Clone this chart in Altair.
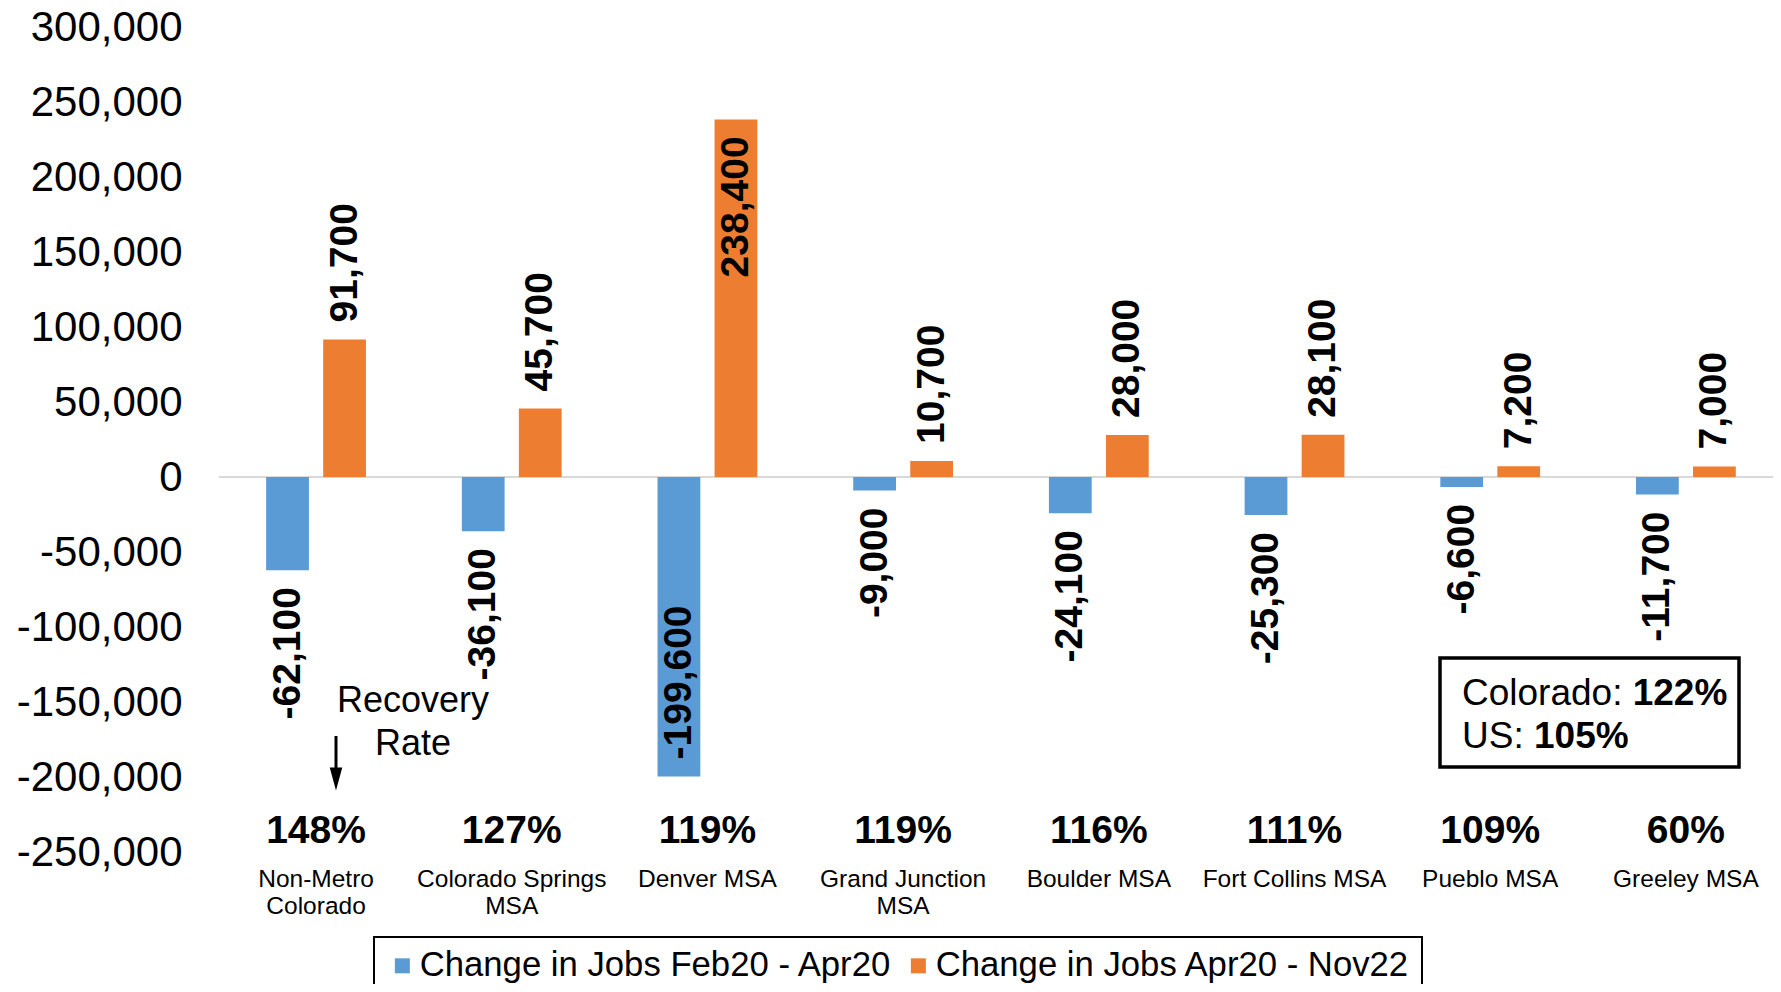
import altair as alt
import pandas as pd

# ---------------- data ----------------
regions = ["Non-Metro Colorado", "Colorado Springs MSA", "Denver MSA", "Grand Junction MSA",
           "Boulder MSA", "Fort Collins MSA", "Pueblo MSA", "Greeley MSA"]
region_labels = ["Non-Metro|Colorado", "Colorado Springs|MSA", "Denver MSA", "Grand Junction|MSA",
                 "Boulder MSA", "Fort Collins MSA", "Pueblo MSA", "Greeley MSA"]
series = ["Change in Jobs Feb20 - Apr20", "Change in Jobs Apr20 - Nov22"]
jobs_lost = [-62100, -36100, -199600, -9000, -24100, -25300, -6600, -11700]
jobs_gained = [91700, 45700, 238400, 10700, 28000, 28100, 7200, 7000]
recovery_rate = ["148%", "127%", "119%", "119%", "116%", "111%", "109%", "60%"]
y_ticks = [-250000, -200000, -150000, -100000, -50000, 0, 50000, 100000, 150000, 200000, 250000, 300000]
colors = ["#5B9BD5", "#ED7D31"]
state_text = ["Colorado: ", "US: "]
state_rate = ["122%", "105%"]

FONT = "Liberation Sans"
W, H = 1554, 825

rows = []
for r, a, b in zip(regions, jobs_lost, jobs_gained):
    for s, v in zip(series, (a, b)):
        inside = abs(v) > 150000
        up = (v > 0) != inside
        rows.append({"region": r, "series": s, "value": v, "label": f"{v:,}", "up": up})
bars_df = pd.DataFrame(rows)
reg_df = pd.DataFrame({"region": regions, "name": region_labels, "rate": recovery_rate})

xenc = alt.X("region:N", sort=regions, axis=None,
             scale=alt.Scale(domain=regions, paddingInner=0.49, paddingOuter=0.2155, align=0.559))
xoff = alt.XOffset("series:N", sort=series, scale=alt.Scale(domain=series, paddingInner=0.25, paddingOuter=0))
yaxis = alt.Axis(values=y_ticks, labelExpr="replace(format(datum.value, ','), '\u2212', '-')",
                 labelFontSize=42, labelFont=FONT, labelColor="black", domain=False,
                 ticks=False, tickSize=0, grid=False, labelPadding=37, title=None)
yenc = alt.Y("value:Q", scale=alt.Scale(domain=[-250000, 300000], nice=False, zero=False), axis=yaxis)

zero = alt.Chart(pd.DataFrame({"value": [0]})).mark_rule(color="#D9D9D9", strokeWidth=2).encode(
    y=alt.Y("value:Q", axis=yaxis))

bars = alt.Chart(bars_df).mark_bar().encode(
    x=xenc, xOffset=xoff, y=yenc,
    color=alt.Color("series:N", sort=series,
                    scale=alt.Scale(domain=series, range=colors),
                    legend=alt.Legend(orient="none", legendX=155, legendY=910, direction="horizontal",
                                      title=None, labelFontSize=34.7, labelFont=FONT, labelColor="black",
                                      symbolType="square", symbolSize=225, symbolStrokeWidth=0,
                                      labelOffset=0, columnPadding=8, padding=11, labelLimit=2000,
                                      strokeColor="black", symbolOffset=0)))

lab_common = dict(angle=270, baseline="middle", fontSize=39, fontWeight="bold", font=FONT, color="black")
labels_up = alt.Chart(bars_df).transform_filter("datum.up").mark_text(align="left", dx=17, **lab_common).encode(
    x=alt.X("region:N", sort=regions), xOffset=alt.XOffset("series:N", sort=series),
    y=alt.Y("value:Q", axis=yaxis), text="label:N")
labels_down = alt.Chart(bars_df).transform_filter("!datum.up").mark_text(align="right", dx=-17, **lab_common).encode(
    x=alt.X("region:N", sort=regions), xOffset=alt.XOffset("series:N", sort=series),
    y=alt.Y("value:Q", axis=yaxis), text="label:N")

rates = alt.Chart(reg_df).mark_text(fontSize=39, fontWeight="bold", font=FONT, color="black",
                                    baseline="alphabetic", align="center").encode(
    x=alt.X("region:N", sort=regions), y=alt.value(816), text="rate:N")

names = alt.Chart(reg_df).mark_text(fontSize=24.5, font=FONT, color="black", baseline="top",
                                    align="center", lineBreak="|", lineHeight=27).encode(
    x=alt.X("region:N", sort=regions), y=alt.value(841), text="name:N")

one = pd.DataFrame({"k": [0]})
arrow_line = alt.Chart(one).mark_rule(color="black", strokeWidth=3).encode(
    x=alt.value(117), y=alt.value(709), y2=alt.value(745))
arrow_head = alt.Chart(one).mark_point(shape="M -0.55 -1 L 0.55 -1 L 0 1 Z", filled=True, color="black",
                                       opacity=1, size=520).encode(x=alt.value(117), y=alt.value(752))
rec_text = alt.Chart(pd.DataFrame({"t": ["Recovery", "Rate"], "py": [685, 728]})).mark_text(
    fontSize=36, font=FONT, color="black", align="center", baseline="alphabetic").encode(
    x=alt.value(194), y=alt.Y("py:Q", scale=None), text="t:N")

box = alt.Chart(one).mark_rect(fill="white", fillOpacity=0, stroke="black", strokeWidth=3.5).encode(
    x=alt.value(1221), x2=alt.value(1520), y=alt.value(631), y2=alt.value(740))
box_df = pd.DataFrame({"t": state_text, "b": state_rate, "py": [678, 721], "off": [170.7, 72.0]})
box_reg = alt.Chart(box_df).mark_text(fontSize=37, font=FONT, color="black", align="left",
                                      baseline="alphabetic").encode(
    x=alt.value(1243), y=alt.Y("py:Q", scale=None), text="t:N")
box_bold = alt.Chart(box_df).transform_calculate(px="1243 + datum.off").mark_text(
    fontSize=37, font=FONT, fontWeight="bold", color="black", align="left", baseline="alphabetic").encode(
    x=alt.X("px:Q", scale=None), y=alt.Y("py:Q", scale=None), text="b:N")

chart = alt.layer(zero, bars, labels_up, labels_down, rates, names, arrow_line, arrow_head, rec_text,
                  box, box_reg, box_bold).properties(
    width=W, height=H,
    autosize=alt.AutoSizeParams(type="none"),
    padding={"left": 211, "top": 19, "right": 0, "bottom": 132},
    background="white",
).configure(font=FONT).configure_view(strokeWidth=0, stroke="transparent").configure_legend(strokeWidth=2)

chart.save("out.html", embed_options={"renderer": "svg", "actions": False})
